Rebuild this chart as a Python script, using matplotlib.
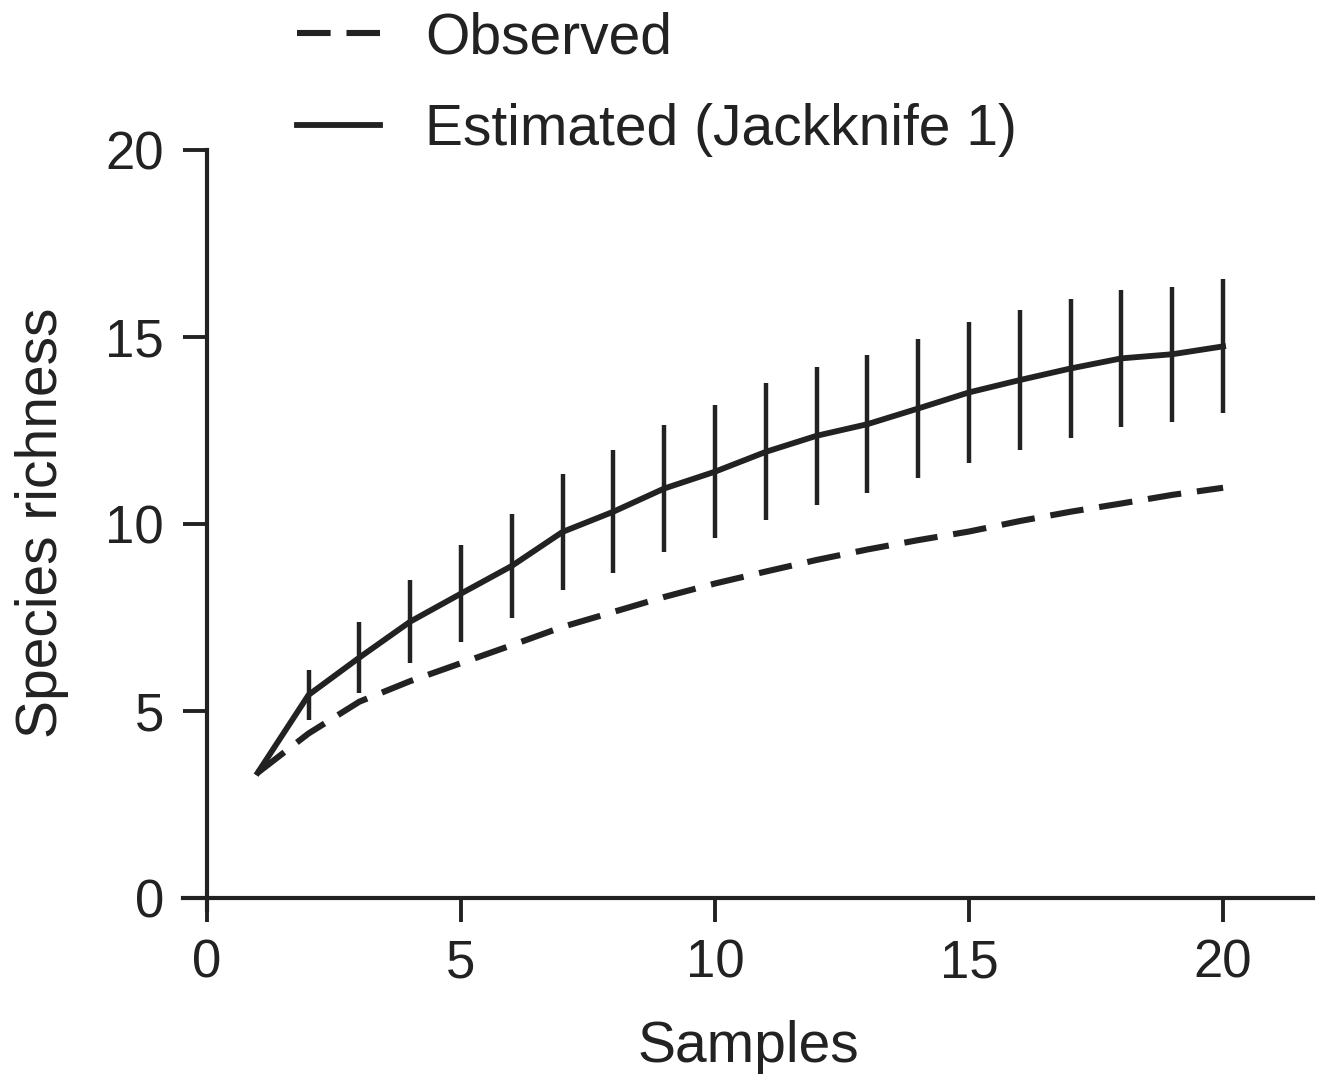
import matplotlib
matplotlib.use("Agg")
import matplotlib.pyplot as plt

plt.rcParams['font.family'] = ['Liberation Sans', 'DejaVu Sans']

samples = [1, 2, 3, 4, 5, 6, 7, 8, 9, 10, 11, 12, 13, 14, 15, 16, 17, 18, 19, 20]
observed = [3.35, 4.4, 5.25, 5.8, 6.28, 6.76, 7.25, 7.65, 8.05, 8.41, 8.73, 9.04, 9.32, 9.57, 9.8, 10.08, 10.33, 10.55, 10.78, 10.97]
estimated = [3.35, 5.43, 6.43, 7.39, 8.14, 8.88, 9.79, 10.33, 10.95, 11.40, 11.93, 12.36, 12.67, 13.09, 13.52, 13.85, 14.16, 14.43, 14.54, 14.75]
est_err = [0.0, 0.67, 0.96, 1.11, 1.29, 1.40, 1.56, 1.65, 1.69, 1.78, 1.83, 1.85, 1.85, 1.87, 1.89, 1.87, 1.87, 1.83, 1.80, 1.79]
xticks = [0, 5, 10, 15, 20]
yticks = [0, 5, 10, 15, 20]

col = '#222222'
fig = plt.figure(figsize=(13.39, 10.84), dpi=100)
ax = fig.add_axes([0.1367, 0.1605, 0.8439, 0.7011])

ax.plot(samples, observed, color=col, lw=4.4, ls=(0, (5.5, 2.6)), label='Observed', zorder=2)
ax.errorbar(samples[1:], estimated[1:], yerr=est_err[1:], fmt='none', ecolor=col, elinewidth=3.2, capsize=0, zorder=3)
ax.plot(samples, estimated, color=col, lw=4.2, label='Estimated (Jackknife 1)', zorder=4)

ax.set_xlim(-0.47, 21.77)
ax.set_ylim(-0.32, 20)
ax.spines['left'].set_position(('data', 0))
ax.spines['bottom'].set_position(('data', 0))
for s in ['top', 'right']:
    ax.spines[s].set_visible(False)
for s in ['left', 'bottom']:
    ax.spines[s].set_linewidth(3.0)
    ax.spines[s].set_color(col)
ax.set_xticks(xticks)
ax.set_yticks(yticks)
ax.tick_params(axis='both', direction='out', length=17, width=2.8, color=col, labelsize=38, labelcolor=col)
ax.tick_params(axis='x', pad=12)
ax.tick_params(axis='y', pad=14)

ax.set_xlabel('Samples', fontsize=41, color=col, labelpad=23)
fig.text(0.031, 0.518, 'Species richness', rotation=90, fontsize=41, color=col, ha='center', va='center')

fig.legend(loc='upper left', bbox_to_anchor=(0.1837, 1.037), frameon=False, fontsize=41,
           handlelength=1.46, handletextpad=0.79, labelspacing=0.67, labelcolor=col)

fig.savefig('out.png', dpi=100)
